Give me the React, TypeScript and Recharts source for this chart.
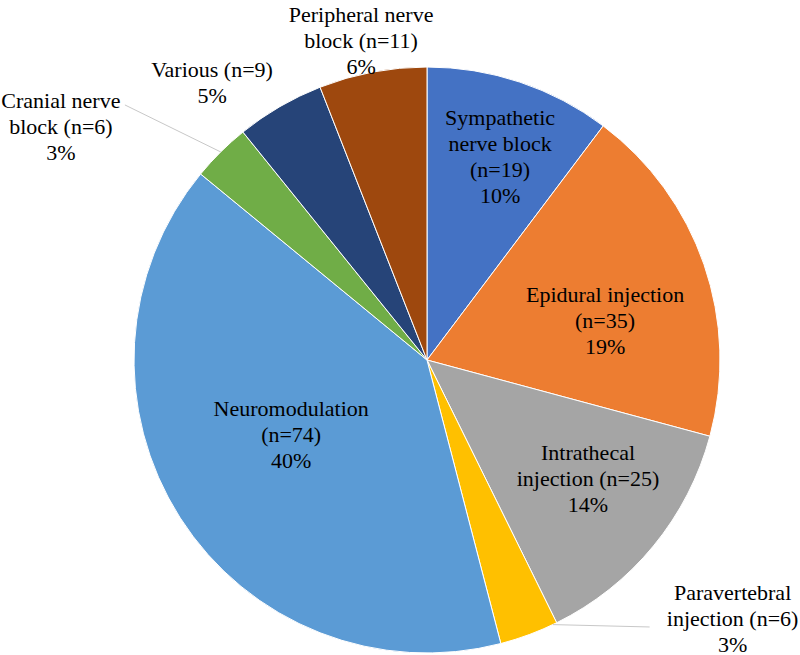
import { PieChart, Pie, Cell } from "recharts";

const categories = [
  "Sympathetic nerve block",
  "Epidural injection",
  "Intrathecal injection",
  "Paravertebral injection",
  "Neuromodulation",
  "Cranial nerve block",
  "Various",
  "Peripheral nerve block",
];

const counts = [19, 35, 25, 6, 74, 6, 9, 11];

// how each label is broken into lines (percent line is added below)
const labelLines = [
  ["Sympathetic", "nerve block", "(n=19)"],
  ["Epidural injection", "(n=35)"],
  ["Intrathecal", "injection (n=25)"],
  ["Paravertebral", "injection (n=6)"],
  ["Neuromodulation", "(n=74)"],
  ["Cranial nerve", "block (n=6)"],
  ["Various (n=9)"],
  ["Peripheral nerve", "block (n=11)"],
];

const colors = [
  "#4472C4",
  "#ED7D31",
  "#A5A5A5",
  "#FFC000",
  "#5B9BD5",
  "#70AD47",
  "#264478",
  "#9E480E",
];

// label placement: radius factor, angle shift (deg, clockwise), leader line
const labelPlace: any[] = [
  { r: 0.74, shift: 1.2 },
  { r: 0.623, shift: 6.3 },
  { r: 0.681, shift: -3.2 },
  { r: 1.365, shift: -29.4, leader: [-83, 9], edge: -5 },
  { r: 0.528, shift: 4.0 },
  { r: 1.483, shift: -12.65, leader: [64, -21], edge: 0 },
  { r: 1.199, shift: -7.56 },
  { r: 1.114, shift: -0.95 },
];

const total = counts.reduce((a, b) => a + b, 0);

const data = categories.map((name, i) => ({
  name,
  value: counts[i],
  lines: [...labelLines[i], `${Math.round((counts[i] / total) * 100)}%`],
}));

const RAD = Math.PI / 180;
const LINE_H = 26;
const FONT =
  "'Liberation Serif', Tinos, 'Times New Roman', 'DejaVu Serif', 'Noto Serif', serif";

const renderLabel = (props: any) => {
  const { cx, cy, midAngle, outerRadius, index } = props;
  const place = labelPlace[index];
  const a = midAngle - place.shift;
  const r = outerRadius * place.r;
  const x = cx + r * Math.cos(-a * RAD);
  const y = cy + r * Math.sin(-a * RAD);
  const lines: string[] = data[index].lines;
  const y0 = y - ((lines.length - 1) * LINE_H) / 2;
  let leader = null;
  if (place.leader) {
    const ea = midAngle - place.edge;
    const ex = cx + outerRadius * Math.cos(-ea * RAD);
    const ey = cy + outerRadius * Math.sin(-ea * RAD);
    leader = (
      <line
        x1={ex}
        y1={ey}
        x2={x + place.leader[0]}
        y2={y + place.leader[1]}
        stroke="#c8c8c8"
        strokeWidth={1}
      />
    );
  }
  return (
    <g>
      {leader}
      <text
        x={x}
        y={y0}
        textAnchor="middle"
        dominantBaseline="central"
        fill="#000"
        fontFamily={FONT}
        fontSize={22}
        style={{ fontFamily: FONT, fontSize: 22 }}
      >
        {lines.map((l, k) => (
          <tspan key={k} x={x} y={y0 + k * LINE_H}>
            {l}
          </tspan>
        ))}
      </text>
    </g>
  );
};

export default function App() {
  return (
    <div style={{ position: "absolute", left: 0, top: 0, background: "#fff" }}>
      <PieChart
        width={800}
        height={655}
        margin={{ top: 0, right: 0, bottom: 0, left: 0 }}
      >
        <Pie
          data={data}
          dataKey="value"
          nameKey="name"
          cx={427}
          cy={360}
          outerRadius={293}
          startAngle={90}
          endAngle={-270}
          stroke="#fff"
          strokeWidth={1}
          label={renderLabel}
          labelLine={false}
          isAnimationActive={false}
        >
          {data.map((d, i) => (
            <Cell key={d.name} fill={colors[i]} />
          ))}
        </Pie>
      </PieChart>
    </div>
  );
}
